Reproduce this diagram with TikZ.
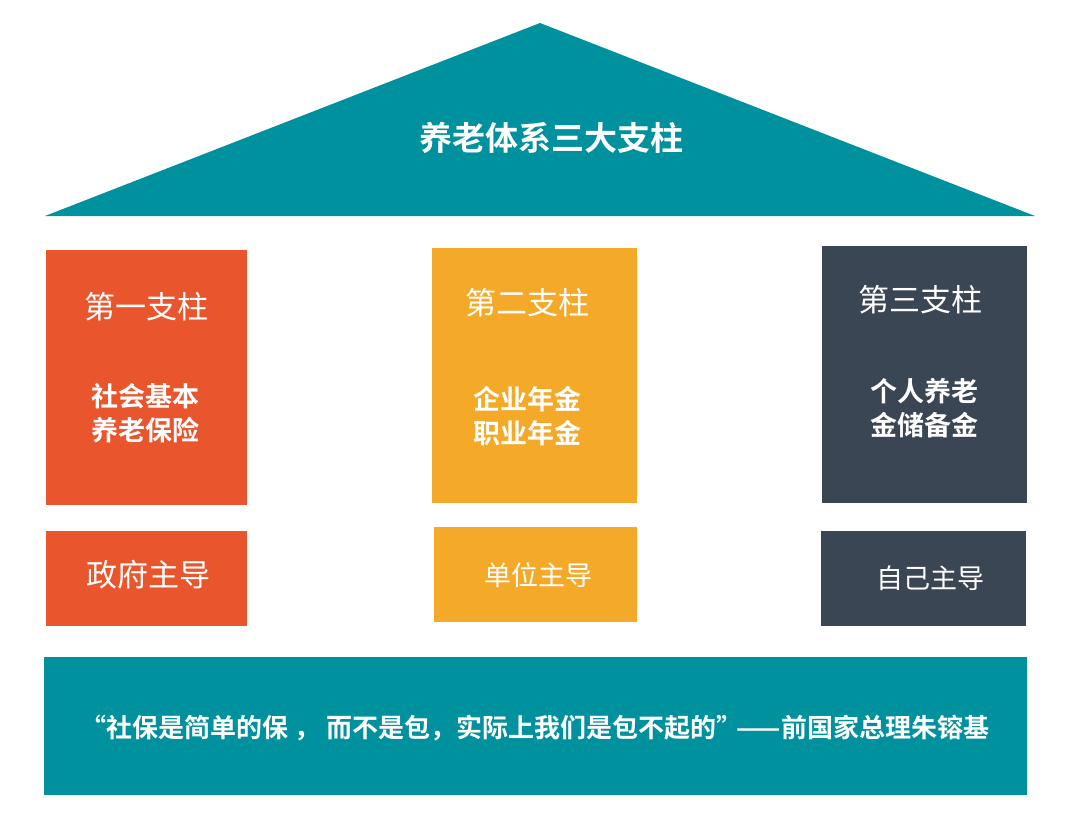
\documentclass[tikz,border=0pt]{standalone}
\usepackage{fontspec}
\setmainfont{Noto Sans CJK SC}
\newfontfamily\cjkb{Noto Sans CJK SC Bold}
\definecolor{tealc}{HTML}{00919E}
\definecolor{redc}{HTML}{E9562E}
\definecolor{yelc}{HTML}{F5A928}
\definecolor{slatec}{HTML}{3A4653}
\tikzset{
  wt/.style={text=white, inner sep=0pt, align=center},
  big/.style={wt, font=\fontsize{31}{36}\selectfont},
  sub/.style={wt, font=\cjkb\fontsize{27}{34}\selectfont},
  lead/.style={wt, font=\fontsize{27}{30}\selectfont},
}
\begin{document}
\begin{tikzpicture}[x=1pt,y=-1pt]
\useasboundingbox (0,0) rectangle (1080,817);
\fill[white] (0,0) rectangle (1080,817);
% roof
\fill[tealc] (540,23) -- (1035,216) -- (45,216) -- cycle;
\node[wt, font=\cjkb\fontsize{33}{38}\selectfont] (title) at (551,138) {养老体系三大支柱};
% pillars
\fill[redc] (46,250) rectangle (247,505);
\fill[yelc] (432,248) rectangle (637,503);
\fill[slatec] (822,246) rectangle (1027,503);
\node[big] (p1) at (146,307) {第一支柱};
\node[big] (p2) at (527,303) {第二支柱};
\node[big] (p3) at (920,300) {第三支柱};
\node[sub] (s1) at (145,413) {社会基本\\养老保险};
\node[sub] (s2) at (527,416) {企业年金\\职业年金};
\node[sub] (s3) at (924,408) {个人养老\\金储备金};
% lead boxes
\fill[redc] (46,531) rectangle (247,626);
\fill[yelc] (434,527) rectangle (637,622);
\fill[slatec] (821,531) rectangle (1026,626);
\node[big] (l1) at (148,575) {政府主导};
\node[lead] (l2) at (538,575) {单位主导};
\node[lead] (l3) at (930,578) {自己主导};
% base
\fill[tealc] (44,657) rectangle (1027,795);
\node[wt, font=\cjkb\fontsize{26}{30}\selectfont] (quote) at (535,728) {“社保是简单的保 ，\ 而不是包，实际上我们是包不起的”\kern-6pt——前国家总理朱镕基};
\end{tikzpicture}
\end{document}
